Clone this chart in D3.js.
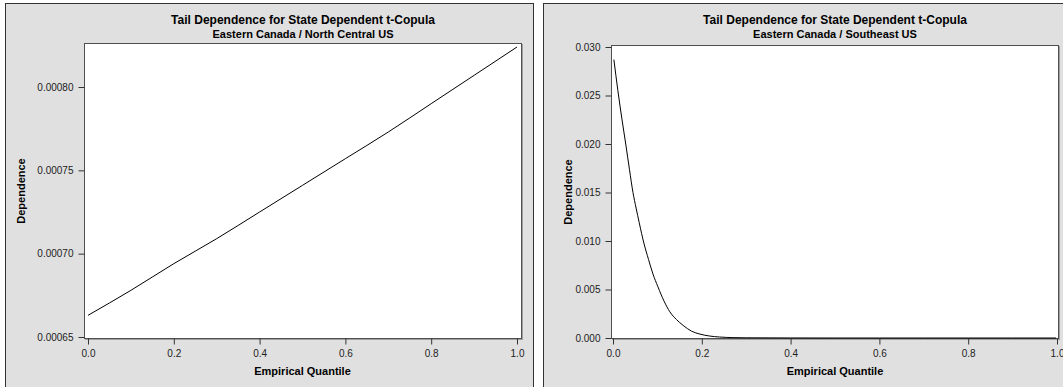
<!DOCTYPE html>
<html>
<head>
<meta charset="utf-8">
<script src="https://cdn.jsdelivr.net/npm/d3@7"></script>
<style>
  body { margin: 0; background: #ffffff; }
  svg { display: block; font-family: Arial, "Liberation Sans", sans-serif; }
</style>
</head>
<body>
<div id="chart"></div>
<script>
// Frame size
const FRAME_WIDTH = 1063;
const FRAME_HEIGHT = 387;

// Chart text
const TITLE = "Tail Dependence for State Dependent t-Copula";
const SUBTITLES = ["Eastern Canada / North Central US", "Eastern Canada / Southeast US"];
const X_LABEL = "Empirical Quantile";
const Y_LABEL = "Dependence";

// Tick labels
const X_TICKS = [0.0, 0.2, 0.4, 0.6, 0.8, 1.0];
const LEFT_Y_TICKS = [0.00065, 0.00070, 0.00075, 0.00080];
const RIGHT_Y_TICKS = [0.000, 0.005, 0.010, 0.015, 0.020, 0.025, 0.030];

// Left series (North Central US)
const LEFT_QUANTILE = [0.0, 0.1, 0.2, 0.3, 0.4, 0.5, 0.6, 0.7, 0.8, 0.9, 1.0];
const LEFT_DEPENDENCE = [0.000663, 0.000678, 0.000694, 0.000709, 0.000725, 0.000741,
                         0.000757, 0.000773, 0.000790, 0.000807, 0.000824];

// Right series (Southeast US)
const RIGHT_QUANTILE = [0.002, 0.011, 0.020, 0.029, 0.037, 0.045, 0.052, 0.059, 0.070,
                        0.080, 0.090, 0.101, 0.115, 0.128, 0.143, 0.158, 0.177, 0.196,
                        0.218, 0.240, 0.270, 0.300, 0.400, 0.500, 0.600, 0.700, 0.800,
                        0.900, 0.998];
const RIGHT_DEPENDENCE = [0.0287, 0.0255, 0.0226, 0.0199, 0.0174, 0.0150, 0.0134, 0.0119, 0.0097,
                          0.0081, 0.0066, 0.0053, 0.0038, 0.0027, 0.0019, 0.0013, 0.0007, 0.0004,
                          0.0002, 0.0001, 0.00004, 0.00002, 0.000005, 0, 0, 0, 0,
                          0, 0];

// Panel layout (positions only)
const PANELS = [
  {px: 5, pw: 528, left: 84, right: 522, top: 43, bottom: 339,
   x0: 88, x1: 517, yTop: 87, yBot: 337, yLabelX: 25, fmt: ".5f"},
  {px: 543, pw: 528, left: 611, right: 1059, top: 45, bottom: 339,
   x0: 613, x1: 1057, yTop: 47, yBot: 338, yLabelX: 572, fmt: ".3f"}
];

const SERIES = [
  {q: LEFT_QUANTILE, v: LEFT_DEPENDENCE, ticks: LEFT_Y_TICKS},
  {q: RIGHT_QUANTILE, v: RIGHT_DEPENDENCE, ticks: RIGHT_Y_TICKS}
];

const FRAME = d3.select("#chart")
                .append("svg")
                  .attr("width", FRAME_WIDTH)
                  .attr("height", FRAME_HEIGHT);

PANELS.forEach((p, i) => {
  const s = SERIES[i];

  // panel background
  FRAME.append("rect")
        .attr("x", p.px + 0.5)
        .attr("y", 3.5)
        .attr("width", p.pw)
        .attr("height", FRAME_HEIGHT + 10)
        .attr("fill", "#e0e0e0")
        .attr("stroke", "#333333");

  // plot area with shadow
  FRAME.append("rect")
        .attr("x", p.left + 1)
        .attr("y", p.top + 1)
        .attr("width", p.right - p.left)
        .attr("height", p.bottom - p.top)
        .attr("fill", "#a0a0a0");
  FRAME.append("rect")
        .attr("x", p.left + 0.5)
        .attr("y", p.top + 0.5)
        .attr("width", p.right - p.left - 1)
        .attr("height", p.bottom - p.top - 1)
        .attr("fill", "#ffffff")
        .attr("stroke", "#505050");

  // scales
  const X_SCALE = d3.scaleLinear()
                    .domain([0, 1])
                    .range([p.x0, p.x1]);
  const Y_SCALE = d3.scaleLinear()
                    .domain([s.ticks[0], s.ticks[s.ticks.length - 1]])
                    .range([p.yBot, p.yTop]);

  // x-axis
  const xAxis = FRAME.append("g")
        .attr("transform", "translate(0," + (p.bottom - 0.5) + ")")
        .call(d3.axisBottom(X_SCALE).tickValues(X_TICKS)
                .tickFormat(d3.format(".1f")).tickSize(6).tickPadding(5).tickSizeOuter(0));

  // y-axis
  const yAxis = FRAME.append("g")
        .attr("transform", "translate(" + (p.left + 0.5) + ",0)")
        .call(d3.axisLeft(Y_SCALE).tickValues(s.ticks)
                .tickFormat(d3.format(p.fmt)).tickSize(6).tickPadding(5).tickSizeOuter(0));

  [xAxis, yAxis].forEach(ax => {
    ax.select(".domain").remove();
    ax.selectAll("line").attr("stroke", "#333333");
    ax.selectAll("text")
      .attr("fill", "#222222")
      .style("font-size", "10px")
      .style("font-family", "Arial, 'Liberation Sans', sans-serif");
  });

  // curve
  const pts = s.q.map((q, k) => [q, s.v[k]]);
  FRAME.append("path")
        .datum(pts)
        .attr("fill", "none")
        .attr("stroke", "#000000")
        .attr("stroke-width", 1)
        .attr("d", d3.line()
                     .x(d => X_SCALE(d[0]))
                     .y(d => Y_SCALE(d[1]))
                     .curve(d3.curveMonotoneX));

  // titles
  const cx = (p.left + p.right) / 2;
  FRAME.append("text")
        .attr("x", cx)
        .attr("y", 24)
        .attr("text-anchor", "middle")
        .style("font-size", "12px")
        .style("font-weight", "bold")
        .text(TITLE);
  FRAME.append("text")
        .attr("x", cx)
        .attr("y", 38)
        .attr("text-anchor", "middle")
        .style("font-size", "11px")
        .style("font-weight", "bold")
        .text(SUBTITLES[i]);

  // axis labels
  FRAME.append("text")
        .attr("x", (p.x0 + p.x1) / 2)
        .attr("y", 375)
        .attr("text-anchor", "middle")
        .style("font-size", "11px")
        .style("font-weight", "bold")
        .text(X_LABEL);
  FRAME.append("text")
        .attr("transform", "translate(" + p.yLabelX + "," + ((p.top + p.bottom) / 2) + ") rotate(-90)")
        .attr("text-anchor", "middle")
        .style("font-size", "11px")
        .style("font-weight", "bold")
        .text(Y_LABEL);
});
</script>
</body>
</html>
